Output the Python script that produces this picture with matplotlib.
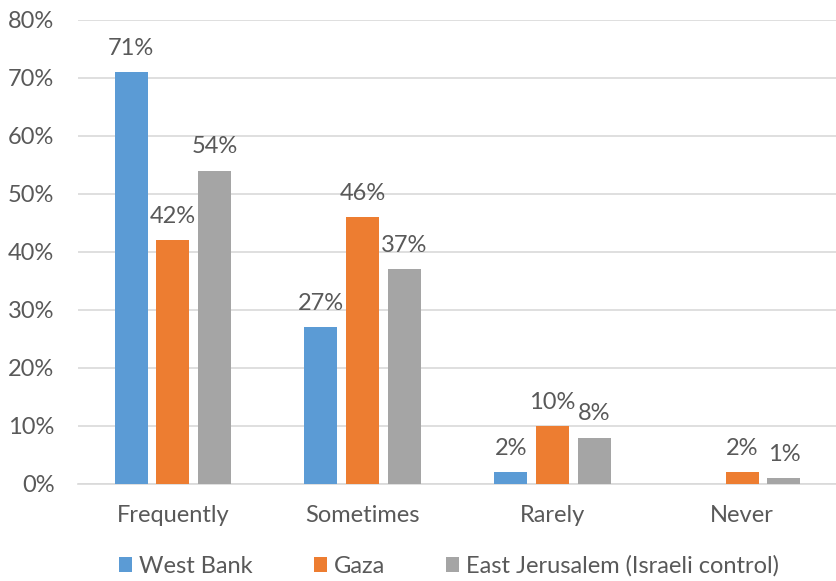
import numpy as np
import matplotlib.pyplot as plt

categories = ['Frequently', 'Sometimes', 'Rarely', 'Never']
west_bank = [71, 27, 2, None]
gaza = [42, 46, 10, 2]
east_jerusalem = [54, 37, 8, 1]
series_names = ['West Bank', 'Gaza', 'East Jerusalem (Israeli control)']
colors = ['#5B9BD5', '#ED7D31', '#A5A5A5']

plt.rcParams['font.family'] = ['Lato', 'DejaVu Sans']
TXT = '#595959'
FS = 17

fig = plt.figure(figsize=(8.37, 5.81), dpi=100)
ax = fig.add_axes([78 / 837, 1 - 484 / 581, 759 / 837, 464 / 581])

x = np.arange(len(categories))
width = 0.174
step = 0.22

for i, (vals, name, col) in enumerate(zip([west_bank, gaza, east_jerusalem], series_names, colors)):
    pos = x + (i - 1) * step
    h = [v if v is not None else 0 for v in vals]
    bars = ax.bar(pos, h, width, color=col, label=name, zorder=3)
    for b, v in zip(bars, vals):
        if v is None:
            continue
        ax.text(b.get_x() + b.get_width() / 2, v + 2.3, f'{v}%', ha='center', va='bottom',
                fontsize=FS, color=TXT)

ax.set_xlim(-0.5, 3.5)
ax.set_ylim(0, 80)
ax.set_yticks(range(0, 81, 10))
ax.set_yticklabels([f'{t}%' for t in range(0, 81, 10)])
ax.set_xticks(x)
ax.set_xticklabels(categories)
ax.tick_params(length=0, labelsize=FS, labelcolor=TXT)
ax.tick_params(axis='x', pad=15)
ax.tick_params(axis='y', pad=17)
ax.grid(axis='y', color='#D9D9D9', linewidth=1.2, zorder=0)
for s in ['top', 'right', 'left']:
    ax.spines[s].set_visible(False)
ax.spines['bottom'].set_color('#D9D9D9')
ax.spines['bottom'].set_linewidth(1.2)

leg = fig.legend(loc='center', bbox_to_anchor=(449 / 837, 1 - 566 / 581), ncol=3, frameon=False,
                 fontsize=FS, handlelength=0.55, handleheight=0.55, handletextpad=0.3,
                 columnspacing=2.6, labelcolor=TXT)

fig.savefig('out.png', dpi=100)
